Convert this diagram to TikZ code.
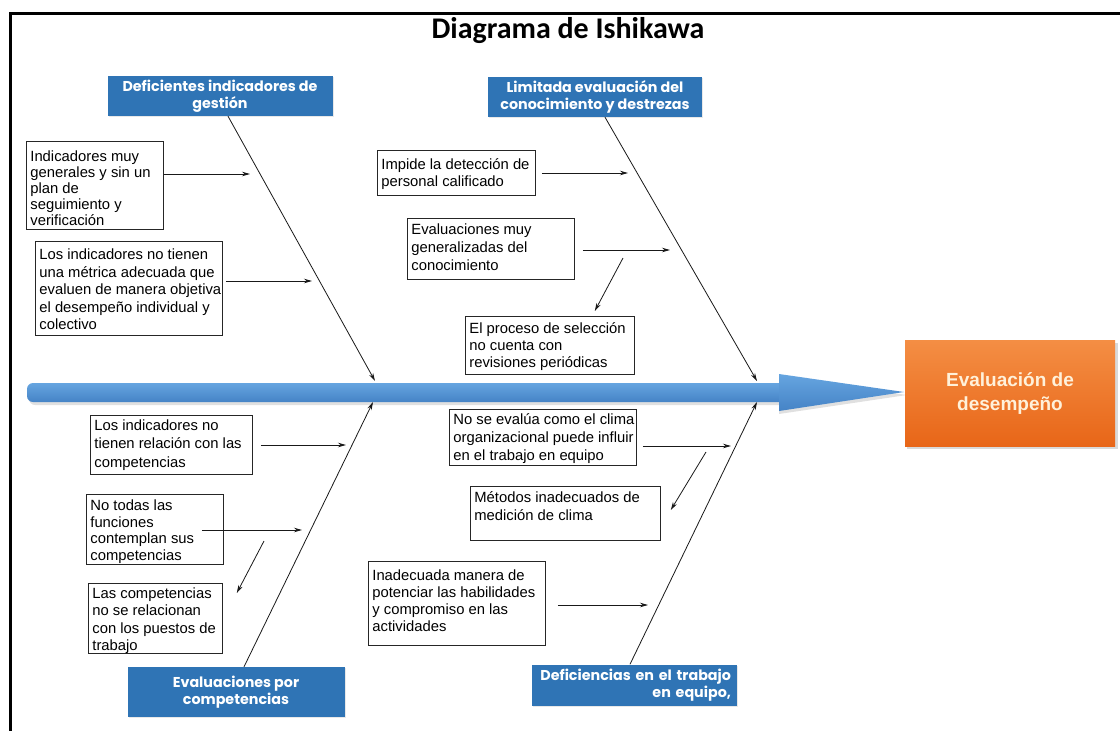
\documentclass[tikz,border=0pt]{standalone}
\usepackage{fontspec}
\setmainfont{Liberation Sans}
\newfontfamily\titlefont{Carlito}
\newfontfamily\headfont{Poppins}
\usetikzlibrary{arrows.meta,shadows,calc}

\definecolor{hdrblue}{HTML}{2F74B5}
\definecolor{spinetop}{HTML}{66A5E0}
\definecolor{spinebot}{HTML}{4583C6}
\definecolor{effecttop}{HTML}{F48E44}
\definecolor{effectbot}{HTML}{E86618}
\definecolor{effecttext}{HTML}{FFF1DA}

% cause box contents: width, height, first baseline, line spacing, lines
\newcommand{\causetext}[5]{\parbox[c][#2pt][t]{#1pt}{\fontsize{14.8}{#4}\selectfont
  \vspace*{\dimexpr#3pt-0.7\baselineskip\relax}\hspace*{4pt}\begin{tabular}[t]{@{}l@{}}#5\end{tabular}}}

\tikzset{
  cause/.style={draw=black!85, line width=0.8pt, fill=white, inner sep=0pt, anchor=north west},
  header/.style={fill=hdrblue, text=white, inner sep=0pt,
    font=\headfont\bfseries\fontsize{14.3}{17.5}\selectfont,
    drop shadow={opacity=0.18, shadow xshift=1pt, shadow yshift=-1pt}},
  bone/.style={line width=0.8pt, draw=black!90, -{Stealth[length=8pt,width=4.5pt]}},
  twig/.style={line width=0.8pt, draw=black!90, -{Stealth[length=8pt,width=4.5pt]}},
}

\begin{document}
\begin{tikzpicture}[x=1pt, y=-1pt]
\useasboundingbox (0,0) rectangle (1120,731);
\fill[white] (0,0) rectangle (1120,731);

% frame lines
\draw[line width=3pt] (10,731) -- (10,13) -- (1120,13);

% title
\node (title) at (568,31) {\titlefont\bfseries\fontsize{30}{32}\selectfont Diagrama de Ishikawa};

% spine: shadow, shaft and head
\fill[black, opacity=0.12, rounded corners=6pt] (29,386) rectangle (790,405);
\fill[black, opacity=0.12] (779,377) -- (907,395) -- (779,414) -- cycle;
\shade[top color=spinetop, bottom color=spinebot, rounded corners=6pt] (27,383) rectangle (790,402);
\shade[top color=spinetop, bottom color=spinebot] (779,374) -- (904,392) -- (779,411) -- cycle;

% effect
\fill[black, opacity=0.15] (907,343) rectangle (1118,449);
\shade[top color=effecttop, bottom color=effectbot] (905,340) rectangle (1115,446);
\node[text=effecttext, font=\bfseries\fontsize{19}{24}\selectfont, align=center] (effect) at (1010,393)
  {Evaluación de\\desempeño};

% category headers
\node[header, minimum width=225pt, minimum height=40pt, align=center] (h1) at (220,96)
  {Deficientes indicadores de\\gestión};
\node[header, minimum width=214pt, minimum height=40pt, align=center] (h2) at (595,97)
  {Limitada evaluación del\\conocimiento y destrezas};
\node[header, minimum width=217pt, minimum height=50pt, align=center] (h3) at (236,692)
  {Evaluaciones por\\competencias};
\node[header, minimum width=205pt, minimum height=41pt, text width=194pt, align=right] (h4) at (634,685)
  {Deficiencias en el trabajo\\en equipo,};

% points where the bones meet the spine
\coordinate (j1) at (375,381);
\coordinate (j2) at (757,381);
\coordinate (j3) at (373,402);
\coordinate (j4) at (757,402);

% bones
\draw[bone] ([xshift=8pt]h1.south) -- (j1);
\draw[bone] ([xshift=10pt]h2.south) -- (j2);
\draw[bone] ([xshift=8pt]h3.north) -- (j3);
\draw[bone] ([xshift=-4pt]h4.north) -- (j4);

% causes: upper left
\node[cause] (a1) at (26,141) {\causetext{137}{88}{20}{16}{Indicadores muy\\generales y sin un\\plan de\\seguimiento y\\verificación}};
\node[cause] (a2) at (35,241) {\causetext{187}{94}{18}{17.6}{Los indicadores no tienen\\una métrica adecuada que\\evaluen de manera objetiva\\el desempeño individual y\\colectivo}};
% causes: upper right
\node[cause] (b1) at (377,150) {\causetext{158}{45}{19}{17}{Impide la detección de\\personal calificado}};
\node[cause] (b2) at (407,218) {\causetext{167}{61}{16}{18}{Evaluaciones muy\\generalizadas del\\conocimiento}};
\node[cause] (b3) at (465,316) {\causetext{169}{58}{17}{17}{El proceso de selección\\no cuenta con\\revisiones periódicas}};
% causes: lower left
\node[cause] (c1) at (90,415) {\causetext{162}{59}{15}{18.3}{Los indicadores no\\tienen relación con las\\competencias}};
\node[cause] (c2) at (86,494) {\causetext{137}{70}{16}{16.7}{No todas las\\funciones\\contemplan sus\\competencias}};
\node[cause] (c3) at (88,583) {\causetext{134}{70}{15}{17.3}{Las competencias\\no se relacionan\\con los puestos de\\trabajo}};
% causes: lower right
\node[cause] (d1) at (449,409) {\causetext{187}{56}{15}{18}{No se evalúa como el clima\\organizacional puede influir\\en el trabajo en equipo}};
\node[cause] (d2) at (470,486) {\causetext{190}{54}{16}{18}{Métodos inadecuados de\\medición de clima}};
\node[cause] (d3) at (368,561) {\causetext{177}{84}{19}{17}{Inadecuada manera de\\potenciar las habilidades\\y compromiso en las\\actividades}};

% arrow ends near the bones
\coordinate (ta1) at (250,174);
\coordinate (ta2) at (312,281);
\coordinate (tb1) at (628,173);
\coordinate (tb2) at (670,250);
\coordinate (tc1) at (346,445);
\coordinate (tc2) at (302,530);
\coordinate (td1) at (731,446);
\coordinate (td3) at (648,605);

\draw[twig] (a1.east |- ta1) -- (ta1);
\draw[twig] ($(a2.east |- ta2)+(3,0)$) -- (ta2);
\draw[twig] ($(b1.east |- tb1)+(6,0)$) -- (tb1);
\draw[twig] ($(b2.east |- tb2)+(8,0)$) -- (tb2);
\draw[twig] ($(c1.east |- tc1)+(8,0)$) -- (tc1);
\draw[twig] ($(c2.east |- tc2)+(-22,0)$) -- (tc2);
\draw[twig] ($(d1.east |- td1)+(6,0)$) -- (td1);
\draw[twig] ($(d3.east |- td3)+(12,0)$) -- (td3);

% secondary causes
\coordinate (sb3) at (623,258);
\coordinate (sc3) at (264,541);
\coordinate (sd2) at (706,452);
\draw[twig] (sb3) -- ($(b3.north east)+(-40,-5)$);
\draw[twig] (sc3) -- ($(c3.north east)+(14,10)$);
\draw[twig] (sd2) -- ($(d2.north east)+(10,24)$);
\end{tikzpicture}
\end{document}
